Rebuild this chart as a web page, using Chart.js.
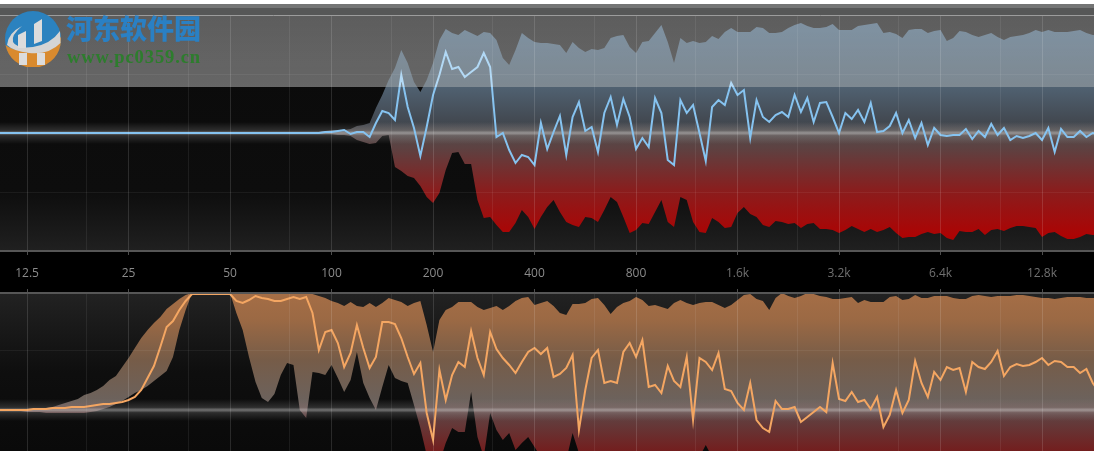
<!DOCTYPE html>
<html><head><meta charset="utf-8">
<style>
html,body{margin:0;padding:0;background:#fff;width:1094px;height:454px;overflow:hidden}
#stage{position:absolute;left:0;top:4px;width:1094px;height:447px;background:#000}
.band{position:absolute;left:0;width:1094px}
canvas{position:absolute;left:0;filter:blur(.6px)}
#shade{position:absolute;left:0;top:15px;width:1094px;height:72px;background:linear-gradient(rgba(255,255,255,.34),rgba(255,255,255,.375));}
#wm1{position:absolute;left:66px;top:11px;font:900 27px/34px "Noto Sans CJK SC";color:#2a80c4;white-space:nowrap;letter-spacing:0}
#wm2{position:absolute;left:67px;top:47px;font:bold 18.5px/20px "Liberation Serif";color:#2d7d2d;white-space:nowrap;letter-spacing:.9px}
svg{position:absolute;left:5px;top:11px}
</style></head><body>
<div id="stage"></div>
<div class="band" style="top:4px;height:4px;background:#747575"></div>
<div class="band" style="top:8px;height:7px;background:#565757"></div>
<canvas id="topChart" width="1094" height="292" style="top:0"></canvas>
<canvas id="botChart" width="1094" height="163" style="top:288px"></canvas>
<div id="shade"></div>
<svg width="56" height="56" viewBox="0 0 56 56">
<circle cx="28" cy="28" r="28" fill="#2b82bf"/>
<path d="M0.5 34 A28 28 0 0 0 55.5 34 L56 26 Q40 42 20 40 Q6 39 0.5 34Z" fill="#d98a2e"/>
<path d="M2 34 Q3 22 17 15 Q6 24 8 31 Q12 38 28 36 Q46 33 55 20 L55.5 32 Q44 44 24 42 Q8 40 2 34Z" fill="#d4d4d4"/>
<path d="M13 24 L21 20 V37 H13Z M29 13 L37 8 V30 L29 33Z M14 42 H22 V54 H14Z M32 42 H40 V54 H32Z" fill="#dcdcdc"/>
</svg>
<div id="wm1">河东软件园</div>
<div id="wm2">www.pc0359.cn</div>
<script src="https://cdn.jsdelivr.net/npm/chart.js@4/dist/chart.umd.min.js"></script>
<script>
const freqs = [10.07,10.51,10.98,11.46,11.97,
12.5,13.05,13.63,14.24,14.87,15.52,16.21,16.93,17.68,18.46,19.28,20.13,21.02,21.95,22.93,23.94,
25,26.1,27.26,28.47,29.73,31.05,32.42,33.86,35.36,36.92,38.56,40.26,42.05,43.91,45.85,47.88,
50,52.2,54.5,56.9,59.5,62.1,64.8,67.7,70.7,73.8,77.1,80.5,84.1,87.8,91.7,95.8,
100,104.4,109,113.9,118.9,124.2,129.7,135.4,141.4,147.7,154.2,161,168.2,175.6,183.4,191.5,
200,208.9,218.1,227.8,237.8,248.4,259.4,270.9,282.8,295.4,308.4,322.1,336.4,351.3,366.8,383,
400,417.7,436.2,455.5,475.7,496.8,518.7,541.7,565.7,590.7,616.9,644.2,672.7,702.5,733.6,766.1,
800,835.4,872.4,911,951.4,993.5,1037,1083,1131,1181,1234,1288,1345,1405,1467,1532,
1600,1671,1745,1822,1903,1987,2075,2167,2263,2363,2467,2577,2691,2810,2934,3064,
3200,3342,3490,3644,3805,3974,4150,4334,4525,4725,4935,5153,5382,5620,5869,6129,
6400,6683,6979,7288,7611,7949,8300,8667,9051,9450,9870,10307,10763,11239,11737,12257,
12800,13367,13958,14577,15222,15896,16600,17335,18102,18904];

const topUpper = [0,0,0,0,0,
0,0,0,0,0,0,0,0,0,0,0,0,0,0,0,0,
0,0,0,0,0,0,0,0,0,0,0,0,0,0,0,0,
0,0,0,0,0,0,0,0,0,0,0,0,1,1,1,2,
3,3,3,4,7,8,10,25,38,53,65,83,70,51,41,53,
70,93,104,100,98,103,100,97,101,100,93,75,68,83,100,95,
91,90,90,89,88,80,91,85,81,84,83,85,95,97,98,86,
80,91,92,100,108,91,70,95,90,92,90,91,97,94,101,105,
101,101,101,106,105,100,100,101,105,108,110,107,105,105,106,109,
103,103,103,107,108,109,110,100,101,99,95,103,104,104,100,102,
103,92,95,102,101,98,96,98,100,96,93,96,97,98,100,103,
101,103,101,101,101,102,103,100,98,98];

const topLower = [0,0,0,0,0,
0,0,0,0,0,0,0,0,0,0,0,0,0,0,0,0,
0,0,0,0,0,0,0,0,0,0,0,0,0,0,0,0,
0,0,0,0,0,0,0,0,0,0,0,0,0,-1,-1,-1,
-1,-2,-2,-3,-7,-9,-11,-10,-3,-2,-34,-38,-43,-45,-53,-64,
-70,-60,-37,-20,-19,-31,-31,-67,-85,-84,-92,-99,-99,-90,-77,-84,
-96,-84,-74,-67,-79,-89,-92,-94,-84,-85,-89,-77,-64,-69,-84,-100,
-97,-90,-91,-79,-67,-89,-94,-64,-67,-89,-99,-100,-85,-89,-95,-94,
-80,-74,-81,-84,-92,-94,-88,-89,-91,-90,-95,-91,-90,-96,-96,-97,
-100,-97,-93,-96,-99,-96,-99,-97,-94,-100,-105,-104,-104,-101,-99,-101,
-100,-105,-107,-98,-99,-99,-96,-102,-97,-96,-98,-95,-93,-93,-94,-95,
-104,-100,-99,-103,-106,-106,-104,-101,-102,-102];

const topMid = [0,0,0,0,0,
0,0,0,0,0,0,0,0,0,0,0,0,0,0,0,0,
0,0,0,0,0,0,0,0,0,0,0,0,0,0,0,0,
0,0,0,0,0,0,0,0,0,0,0,0,0,0,0,1,
1,2,3,-1,1,1,-4,10,22,20,13,58,26,5,-23,6,
38,58,81,64,66,56,61,66,80,66,-4,0,-17,-30,-22,-24,
-32,10,-16,1,17,-22,16,31,2,6,-19,20,36,8,34,16,
-16,-5,-14,35,20,-27,-32,33,20,28,0,-28,26,33,28,50,
38,43,-5,33,16,11,18,21,16,38,21,35,11,30,31,16,
0,20,14,23,11,30,1,2,7,20,0,13,-5,10,-12,5,
-2,-3,-2,-2,4,-6,2,-4,9,-2,5,-7,-3,-5,-3,0,
-7,5,-19,4,-4,-4,2,-4,0,-1];

const botUpper = [0,0,0,0,0,
1,1,1,2,3,5,7,9,11,15,17,20,24,30,34,43,
52,62,72,80,87,93,101,106,111,115,117,117,117,117,117,117,
117,117,117,117,117,117,117,117,117,117,117,117,116,116,114,112,
109,107,104,108,104,103,107,103,107,112,110,108,104,107,109,85,
58,90,100,103,108,108,108,103,100,102,104,100,104,109,112,113,
105,107,109,104,97,95,106,106,107,111,112,105,96,103,107,109,
113,110,104,105,103,101,107,110,107,105,107,108,108,105,102,105,
110,115,116,111,109,100,112,117,114,112,114,117,116,114,113,111,
111,112,113,107,110,108,108,108,113,114,110,111,115,112,112,114,
114,114,112,111,111,114,115,114,113,114,114,114,115,115,114,113,
112,112,111,112,113,113,113,112,112,112];

const botLower = [0,0,-1,-1,-1,
-2,-2,-2,-3,-3,-3,-3,-3,-3,-3,-2,-1,1,3,6,9,
13,17,20,24,29,34,39,53,80,100,117,117,117,117,117,117,
117,97,80,53,28,12,8,16,35,47,45,0,-8,38,37,35,
45,32,18,30,58,27,12,0,23,45,32,29,27,5,-18,-45,
-53,-53,-33,-18,-22,-22,18,-27,-47,-3,-20,-30,-23,-40,-33,-27,
-37,-47,-53,-53,-53,-50,-23,-43,-53,-53,-53,-53,-53,-53,-47,-42,
-48,-53,-53,-53,-53,-53,-53,-53,-53,-52,-47,-35,-47,-53,-53,-53,
-53,-53,-53,-53,-53,-53,-53,-53,-53,-53,-53,-53,-53,-53,-53,-53,
-53,-53,-53,-53,-53,-53,-53,-53,-53,-53,-53,-53,-53,-53,-53,-53,
-53,-53,-53,-53,-53,-53,-53,-53,-53,-53,-53,-53,-53,-53,-53,-53,
-53,-53,-53,-53,-53,-53,-53,-53,-53,-53];

const botMid = [0,0,0,0,0,
0,1,1,1,2,2,2,3,3,3,4,5,6,6,7,8,
10,13,20,32,44,63,83,89,100,109,116,116,116,116,116,116,
116,109,107,110,114,112,111,109,109,111,113,111,113,97,60,78,
80,67,43,57,85,62,42,53,88,88,86,72,53,36,47,-3,
-30,40,10,35,48,43,79,52,35,78,61,52,45,37,48,58,
62,56,62,33,36,42,55,-20,20,52,60,27,29,27,58,67,
53,70,23,25,17,44,29,23,53,-10,52,48,40,57,21,19,
7,0,27,-10,-18,-22,9,1,1,3,-12,-7,-2,3,-2,47,
11,9,18,8,10,1,13,-17,-5,20,-3,10,49,27,13,38,
30,43,40,42,18,48,43,41,48,59,34,43,46,44,45,48,
52,45,49,48,43,43,37,41,27,18];

const labelFreqs = [12.5,25,50,100,200,400,800,1600,3200,6400,12800];
const labelNames = ['12.5','25','50','100','200','400','800','1.6k','3.2k','6.4k','12.8k'];
const midFreqs = [18.8,37.6,75.2,150.4,300.8,601.6,1203,2406,4813,9626];
const levelLines = [-59,0,59];
const freqMin = 10.39, freqMax = 18257;

const points = vals => vals.map((y,i)=>({x:freqs[i],y}));
const gridFreqs = labelFreqs.concat(midFreqs).sort((a,b)=>a-b);

function vGradient(chart, stops){
  const g = chart.ctx.createLinearGradient(0,0,0,chart.canvas.height);
  const h = chart.canvas.height;
  stops.forEach(([p,c])=>g.addColorStop(Math.min(1,p/h),c));
  return g;
}
const panelPlugin = {
  id:'panel',
  beforeDatasetsDraw(chart,args,opts){
    const a = chart.chartArea, c = chart.ctx;
    c.save();
    c.fillStyle = vGradient(chart,opts.bg);
    c.fillRect(a.left,a.top,a.width,a.height);
    c.restore();
  },
  beforeDatasetDraw(chart,args){
    if(args.index!==0) return;
    const a = chart.chartArea, c = chart.ctx, y0 = chart.scales.y.getPixelForValue(0);
    const g = c.createLinearGradient(0,y0-11,0,y0+11);
    g.addColorStop(0,'rgba(220,220,220,0)');
    g.addColorStop(.38,'rgba(220,220,220,.16)');
    g.addColorStop(.47,'rgba(225,225,225,.42)');
    g.addColorStop(.53,'rgba(225,225,225,.42)');
    g.addColorStop(.62,'rgba(220,220,220,.16)');
    g.addColorStop(1,'rgba(220,220,220,0)');
    c.save(); c.fillStyle=g; c.fillRect(a.left,y0-11,a.width,22); c.restore();
  }
};
function build(id,cfg){
  return new Chart(document.getElementById(id),{
    type:'line',
    plugins:[panelPlugin],
    data:{datasets:[
      {data:points(cfg.mid),fill:false,borderColor:cfg.line,borderWidth:2,pointRadius:0,tension:0},
      {data:points(cfg.upper),fill:'+1',borderWidth:0,pointRadius:0,tension:0,
       backgroundColor:ctx=>vGradient(ctx.chart,cfg.fill)},
      {data:points(cfg.lower),fill:false,borderWidth:0,pointRadius:0,tension:0}
    ]},
    options:{
      responsive:false,animation:false,devicePixelRatio:1,
      layout:{padding:{top:cfg.padTop,left:0,right:0,bottom:0}},
      plugins:{legend:{display:false},tooltip:{enabled:false},panel:{bg:cfg.bg}},
      scales:{
        x:{type:'logarithmic',position:cfg.xPos,min:freqMin,max:freqMax,
          afterBuildTicks:s=>{s.ticks=gridFreqs.map(v=>({value:v}));},
          afterFit:s=>{s.height=cfg.xHeight;},
          border:{display:true,color:'#565656',width:2,z:1},
          grid:{z:1,tickLength:4,offset:false,
            color:c=>labelFreqs.includes(c.tick.value)?'rgba(255,255,255,.13)':'rgba(255,255,255,.07)',
            tickColor:c=>labelFreqs.includes(c.tick.value)?'rgba(255,255,255,.3)':'rgba(0,0,0,0)'},
          ticks:{display:cfg.xLabels,autoSkip:false,maxRotation:0,minRotation:0,padding:11,
            color:c=>c.tick.value>=1600?'#707070':'#8b8b8b',
            font:{family:'"Open Sans"',size:12},
            callback:v=>{const i=labelFreqs.indexOf(v);return i<0?'':labelNames[i];}}
        },
        y:{min:cfg.yMin,max:cfg.yMax,
          afterBuildTicks:s=>{s.ticks=levelLines.concat(cfg.edges).map(v=>({value:v}));},
          afterFit:s=>{s.width=0;},
          border:{display:false},
          ticks:{display:false},
          grid:{z:1,drawTicks:false,
            color:c=>c.tick.value===0?'rgba(0,0,0,0)':(cfg.edges.includes(c.tick.value)?'#6a6a6a':'rgba(255,255,255,.06)')}
        }
      }
    }
  });
}
build('topChart',{upper:topUpper,lower:topLower,mid:topMid,line:'#86c3f0',
  padTop:15,xPos:'bottom',xHeight:41,xLabels:true,yMin:-118,yMax:118,edges:[118],
  bg:[[15,'#0a0a0a'],[190,'#0d0d0d'],[251,'#202020']],
  fill:[[15,'rgb(62,92,118)'],[86.5,'rgb(48,66,80)'],[87,'rgb(80,97,113)'],[122,'rgb(66,72,80)'],[133,'rgb(82,76,76)'],[150,'rgb(95,64,64)'],[192,'rgb(139,28,28)'],[235,'rgb(172,4,4)'],[251,'rgb(172,0,0)']]
});
build('botChart',{upper:botUpper,lower:botLower,mid:botMid,line:'#f4a662',
  padTop:0,xPos:'top',xHeight:5,xLabels:false,yMin:-41,yMax:117,edges:[],
  bg:[[5,'#222222'],[85,'#0e0e0e'],[163,'#0a0a0a']],
  fill:[[5,'rgb(165,110,70)'],[32,'rgb(155,105,68)'],[72,'rgb(118,92,72)'],[112,'rgb(108,98,92)'],[127,'rgb(95,66,66)'],[163,'rgb(115,30,30)']]
});
</script>
</body></html>
